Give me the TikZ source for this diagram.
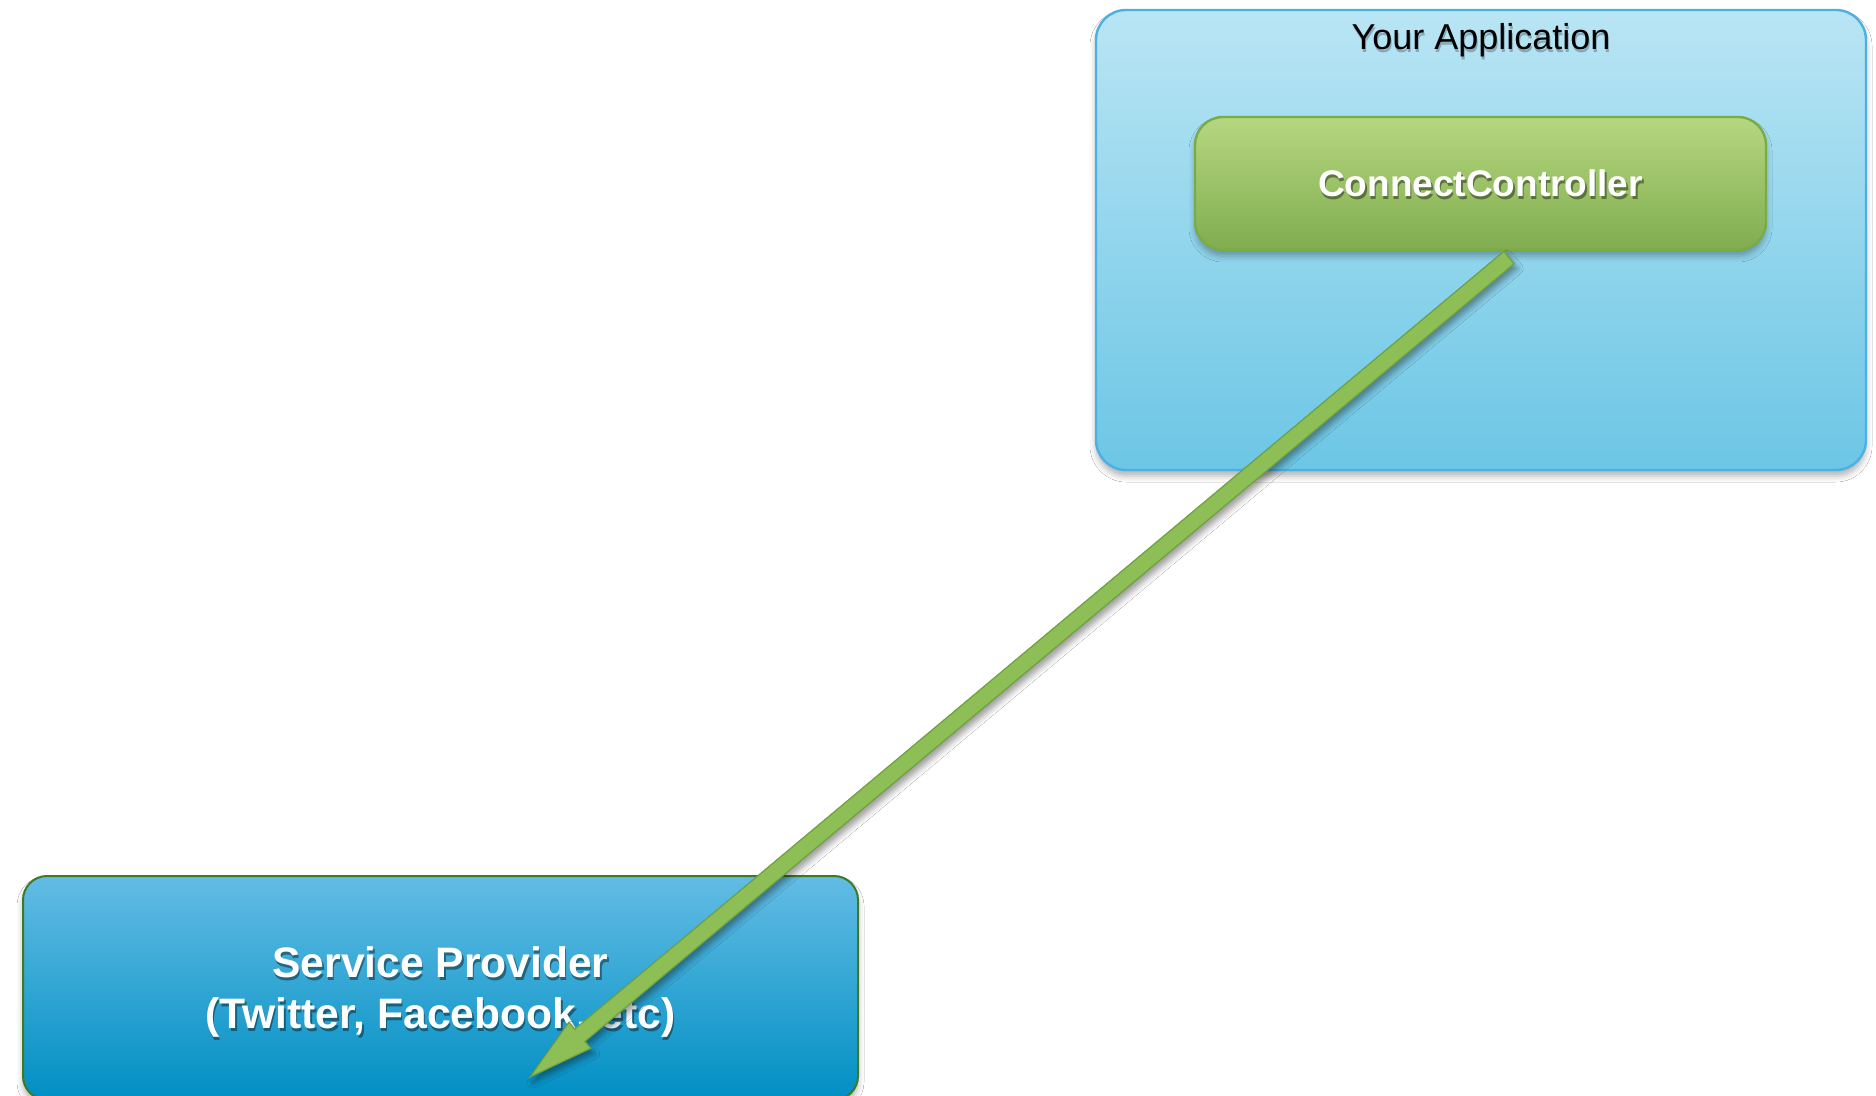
\documentclass[tikz,border=0pt]{standalone}
\usepackage{fontspec}
\setmainfont{Liberation Sans}
\usetikzlibrary{calc,shadows.blur}
\definecolor{apptop}{HTML}{B9E5F4}
\definecolor{appbot}{HTML}{6CC6E5}
\definecolor{appedge}{HTML}{4BB1E2}
\definecolor{cctop}{HTML}{B6D780}
\definecolor{ccbot}{HTML}{80AD4F}
\definecolor{ccedge}{HTML}{79AB46}
\definecolor{sptop}{HTML}{63BCE4}
\definecolor{spbot}{HTML}{008FC3}
\definecolor{spedge}{HTML}{3E7A24}
\definecolor{arrowfill}{HTML}{8DBF56}
\definecolor{arrowedge}{HTML}{6FA23F}
\begin{document}
\begin{tikzpicture}[x=0.5pt,y=-0.5pt,
  boxshadow/.style={blur shadow={shadow xshift=0pt,shadow yshift=-3pt,shadow blur radius=3pt,shadow opacity=30}},
  appbox/.style={rectangle,rounded corners=15pt,draw=appedge,line width=1.2pt,top color=apptop,bottom color=appbot,boxshadow,inner sep=0pt},
  ccbox/.style={rectangle,rounded corners=14pt,draw=ccedge,line width=1.2pt,top color=cctop,bottom color=ccbot,boxshadow,inner sep=0pt},
  spbox/.style={rectangle,rounded corners=12pt,draw=spedge,line width=1pt,top color=sptop,bottom color=spbot,boxshadow,inner sep=0pt},
  titletext/.style={font=\fontsize{18}{21}\selectfont,text=black},
  spfont/.style={font=\fontsize{21.3}{25.5}\selectfont\bfseries,align=center},
  ccfont/.style={font=\fontsize{18.5}{22}\selectfont\bfseries},
  txtshadow/.style={text=black,text opacity=0.4},
  arrowstyle/.style={fill=arrowfill,draw=arrowedge,line width=0.6pt,line join=miter,
     blur shadow={shadow xshift=1.5pt,shadow yshift=-2.5pt,shadow blur radius=3pt,shadow opacity=40}}
]
\useasboundingbox (0,0) rectangle (1876,1096);
\fill[white] (0,0) rectangle (1876,1096);

% Service provider box
\node[spbox,minimum width=417.5pt,minimum height=112pt] (sp) at (440.5,988) {};
\node[spfont,txtshadow] (spshadow) at (442,995) {Service Provider\\(Twitter, Facebook, etc)};
\node[spfont,text=white] (sptext) at (440.5,992) {Service Provider\\(Twitter, Facebook, etc)};

% Application box
\node[appbox,minimum width=385pt,minimum height=230pt] (app) at (1481,240) {};
\node[titletext,text opacity=0.25] (apptitleshadow) at (1482,43) {Your Application};
\node[titletext] (apptitle) at (1481,40) {Your Application};

% ConnectController
\node[ccbox,minimum width=285.5pt,minimum height=66.5pt] (cc) at (1480.5,183.5) {};
\node[ccfont,txtshadow] (ccshadow) at (1482,186.5) {ConnectController};
\node[ccfont,text=white] (cctext) at (1480.5,183.5) {ConnectController};

% Arrow
\coordinate (as) at (1509,257.5);
\coordinate (ae) at (530,1077);
\coordinate (hb) at ($(ae)!32.5pt!(as)$);
\filldraw[arrowstyle]
  ($(as)!4pt!90:(ae)$) -- ($(hb)!4pt!90:(ae)$) -- ($(hb)!8.5pt!90:(ae)$) -- (ae)
  -- ($(hb)!8.5pt!-90:(ae)$) -- ($(hb)!4pt!-90:(ae)$) -- ($(as)!4pt!-90:(ae)$) -- cycle;
\end{tikzpicture}
\end{document}
